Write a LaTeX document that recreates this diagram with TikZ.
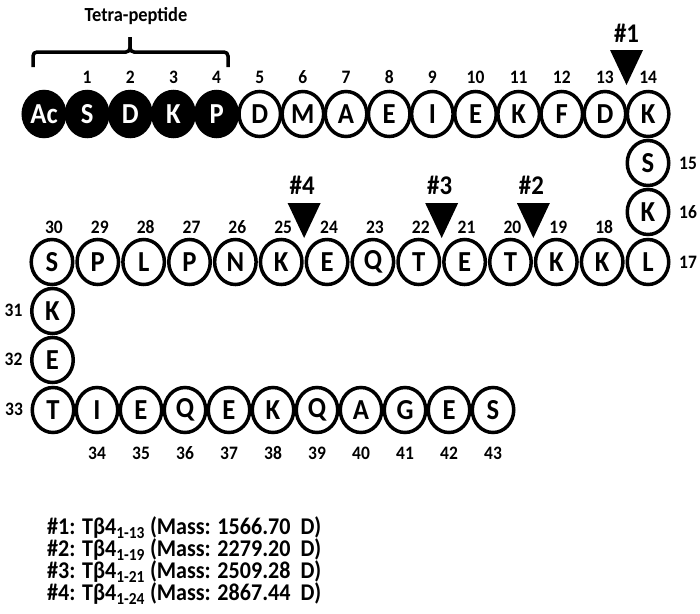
\documentclass[tikz,border=0pt]{standalone}
\usepackage{fontspec}
\setmainfont{Carlito}[FakeStretch=0.92]
\usetikzlibrary{shapes.geometric,calc}
\begin{document}
\begin{tikzpicture}[x=1pt,y=-1pt,
  res/.style={ellipse, draw, line width=3.5pt, minimum width=41.5pt, minimum height=45pt,
    inner sep=0pt, fill=white, font=\fontsize{29}{29}\selectfont\bfseries},
  tet/.style={res, fill=black, text=white},
  num/.style={inner sep=0pt, font=\fontsize{19}{19}\selectfont\bfseries},
  cutlab/.style={inner sep=0pt, font=\fontsize{27}{27}\selectfont\bfseries},
  legend/.style={anchor=west, inner sep=0pt, font=\fontsize{24}{24}\selectfont\bfseries},
  brace/.style={line width=3.5pt, rounded corners=4pt}]
\useasboundingbox (0,0) rectangle (700,613);
% row 1
\foreach \l [count=\i from 0] in {Ac,S,D,K,P}
  \node[tet] (r\i) at ({44+43.15*\i},114) {\l};
\foreach \l [count=\i from 5] in {D,M,A,E,I,E,K,F,D,K}
  \node[res] (r\i) at ({44+43.15*\i},114) {\l};
% right column
\node[res] (r15) at (648,163) {S};
\node[res] (r16) at (648,212) {K};
% row 2
\foreach \l [count=\i from 17] in {L,K,K,T,E,T,Q,E,K,N,P,L,P,S}
  \node[res] (r\i) at ({648-45.85*(\i-17)},262) {\l};
% left column
\node[res] (r31) at (52.5,311) {K};
\node[res] (r32) at (52.5,360) {E};
% row 3
\foreach \l [count=\i from 33] in {T,I,E,Q,E,K,Q,A,G,E,S}
  \node[res] (r\i) at ({53+44*(\i-33)},410) {\l};
% numbers
\foreach \i in {1,...,14}
  \node[num] (n\i) at ([yshift=37pt]r\i.center) {\i};
\foreach \i in {18,...,30}
  \node[num] (n\i) at ([xshift=2pt,yshift=35pt]r\i.center) {\i};
\foreach \i in {15,16,17}
  \node[num] (n\i) at ([xshift=40pt]r\i.center) {\i};
\foreach \i in {31,32,33}
  \node[num] (n\i) at ([xshift=-39pt,yshift=1pt]r\i.center) {\i};
\foreach \i in {34,...,43}
  \node[num] (n\i) at ([yshift=-43pt]r\i.center) {\i};
% cleavage sites
\coordinate (c1) at ($(r13.center)!0.5!(r14.center)$);
\coordinate (c2) at ($(r20.center)!0.5!(r19.center)$);
\coordinate (c3) at ($(r22.center)!0.5!(r21.center)$);
\coordinate (c4) at ($(r25.center)!0.5!(r24.center)$);
\fill ([shift={(-16.5,-64)}]c1) -- ([shift={(16.5,-64)}]c1) -- ([shift={(0,-29)}]c1) -- cycle;
\node[cutlab] (l1) at ([shift={(0,-81)}]c1) {\#1};
\foreach \k in {2,3,4}{
  \fill ([shift={(-16.5,-59)}]c\k) -- ([shift={(16.5,-59)}]c\k) -- ([shift={(0,-24)}]c\k) -- cycle;
  \node[cutlab] (l\k) at ([shift={(-2,-77)}]c\k) {\#\k};
}
% tetra-peptide brace
\draw[brace] (33,67) -- (33,52) -- (130,52) -- (130,37);
\draw[brace] (130,37) -- (130,52) -- (228,52) -- (228,67);
\node[inner sep=0pt, font=\fontsize{20}{20}\selectfont\bfseries] (tp) at (136,16) {Tetra-peptide};
% legend
\node[legend] (g1) at (47,528) {\#1: Tβ4\textsubscript{1-13} (Mass: 1566.70\ \ D)};
\node[legend] (g2) at (47,550) {\#2: Tβ4\textsubscript{1-19} (Mass: 2279.20\ \ D)};
\node[legend] (g3) at (47,572) {\#3: Tβ4\textsubscript{1-21} (Mass: 2509.28\ \ D)};
\node[legend] (g4) at (47,594) {\#4: Tβ4\textsubscript{1-24} (Mass: 2867.44\ \ D)};
\end{tikzpicture}
\end{document}
